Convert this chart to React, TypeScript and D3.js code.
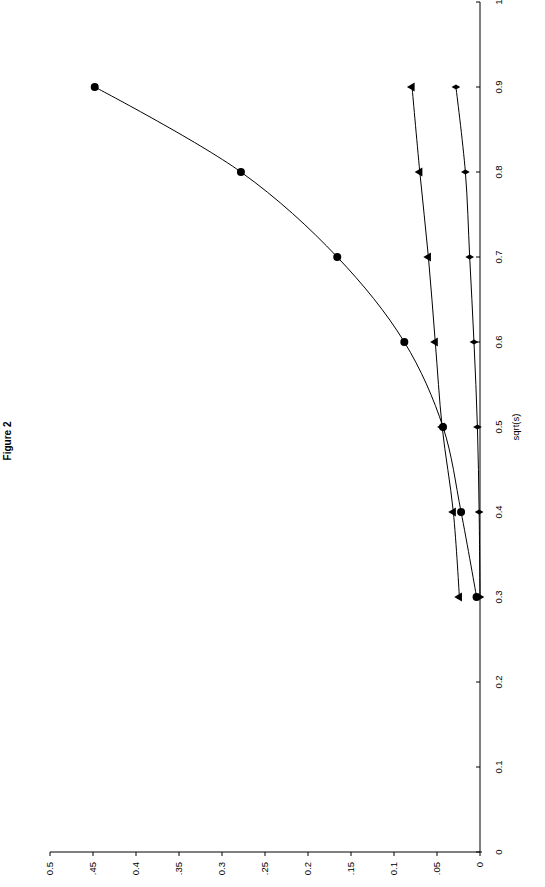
import React from 'react';
import { scaleLinear, line, curveCatmullRom, symbol, symbolTriangle, symbolDiamond } from 'd3';

// sqrt(s) values
const xValues = [0.3, 0.4, 0.5, 0.6, 0.7, 0.8, 0.9];
const circleSeries = [0.004, 0.022, 0.043, 0.088, 0.166, 0.278, 0.448];
const triangleSeries = [0.024, 0.031, 0.044, 0.052, 0.06, 0.07, 0.079];
const diamondSeries = [0.0, 0.001, 0.003, 0.007, 0.012, 0.017, 0.028];

const xTicks = [0, 0.1, 0.2, 0.3, 0.4, 0.5, 0.6, 0.7, 0.8, 0.9, 1];
const xTickLabels = ['0', '0.1', '0.2', '0.3', '0.4', '0.5', '0.6', '0.7', '0.8', '0.9', '1'];
const yTicks = [0, 0.05, 0.1, 0.15, 0.2, 0.25, 0.3, 0.35, 0.4, 0.45, 0.5];
const yTickLabels = ['0', '.05', '0.1', '.15', '0.2', '.25', '0.3', '.35', '0.4', '.45', '0.5'];

const width = 545;
const height = 887;
// the whole chart is drawn unrotated, then turned 90deg counter-clockwise
const innerWidth = 850;
const innerHeight = 430;
const origin = { x: 50, y: 852 };

const font = 'Arial, "Liberation Sans", sans-serif';

export default function App() {
  const xScale = scaleLinear().domain([0, 1]).range([0, innerWidth]);
  const yScale = scaleLinear().domain([0, 0.5]).range([innerHeight, 0]);

  const makeLine = (vals: number[]) =>
    line<number>()
      .x((_, i) => xScale(xValues[i]))
      .y(d => yScale(d))
      .curve(curveCatmullRom.alpha(0.5))(vals) || '';

  const triPath = symbol().type(symbolTriangle).size(34)() || '';
  const diaPath = symbol().type(symbolDiamond).size(22)() || '';

  return (
    <svg
      width={width}
      height={height}
      style={{ position: 'absolute', left: 0, top: 0, background: '#fff' }}
    >
      <g transform={`translate(${origin.x}, ${origin.y}) rotate(-90)`}>
        {/* title */}
        <text
          x={411}
          y={-39}
          textAnchor="middle"
          fontFamily={font}
          fontWeight="bold"
          fontSize={10}
        >
          Figure 2
        </text>

        {/* x axis (bottom in unrotated frame) */}
        <line x1={0} x2={innerWidth} y1={innerHeight} y2={innerHeight} stroke="#000" />
        {xTicks.map((t, i) => (
          <g key={t} transform={`translate(${xScale(t)}, ${innerHeight})`}>
            <line y1={0} y2={-4} stroke="#000" />
            <text y={22} textAnchor="middle" fontFamily={font} fontSize={9.5}>
              {xTickLabels[i]}
            </text>
          </g>
        ))}
        <text
          x={xScale(0.5)}
          y={469}
          textAnchor="middle"
          fontFamily={font}
          fontSize={9.5}
        >
          sqrt(s)
        </text>

        {/* y axis (left in unrotated frame) */}
        <line x1={0} x2={0} y1={0} y2={innerHeight + 2} stroke="#000" />
        {yTicks.map((t, i) => (
          <g key={t} transform={`translate(0, ${yScale(t)})`}>
            <line x1={0} x2={-4} stroke="#000" />
            <text x={-10} dy="0.35em" textAnchor="end" fontFamily={font} fontSize={9.5}>
              {yTickLabels[i]}
            </text>
          </g>
        ))}

        {/* series lines */}
        <path d={makeLine(circleSeries)} fill="none" stroke="#000" strokeWidth={1} />
        <path d={makeLine(triangleSeries)} fill="none" stroke="#000" strokeWidth={1} />
        <path d={makeLine(diamondSeries)} fill="none" stroke="#000" strokeWidth={1} />

        {/* markers */}
        {circleSeries.map((v, i) => (
          <circle key={`c${i}`} cx={xScale(xValues[i])} cy={yScale(v)} r={4} fill="#000" />
        ))}
        {triangleSeries.map((v, i) => (
          <path
            key={`t${i}`}
            d={triPath}
            transform={`translate(${xScale(xValues[i])}, ${yScale(v)})`}
            fill="#000"
          />
        ))}
        {diamondSeries.map((v, i) => (
          <path
            key={`d${i}`}
            d={diaPath}
            transform={`translate(${xScale(xValues[i])}, ${yScale(v)})`}
            fill="#000"
          />
        ))}
      </g>
    </svg>
  );
}
